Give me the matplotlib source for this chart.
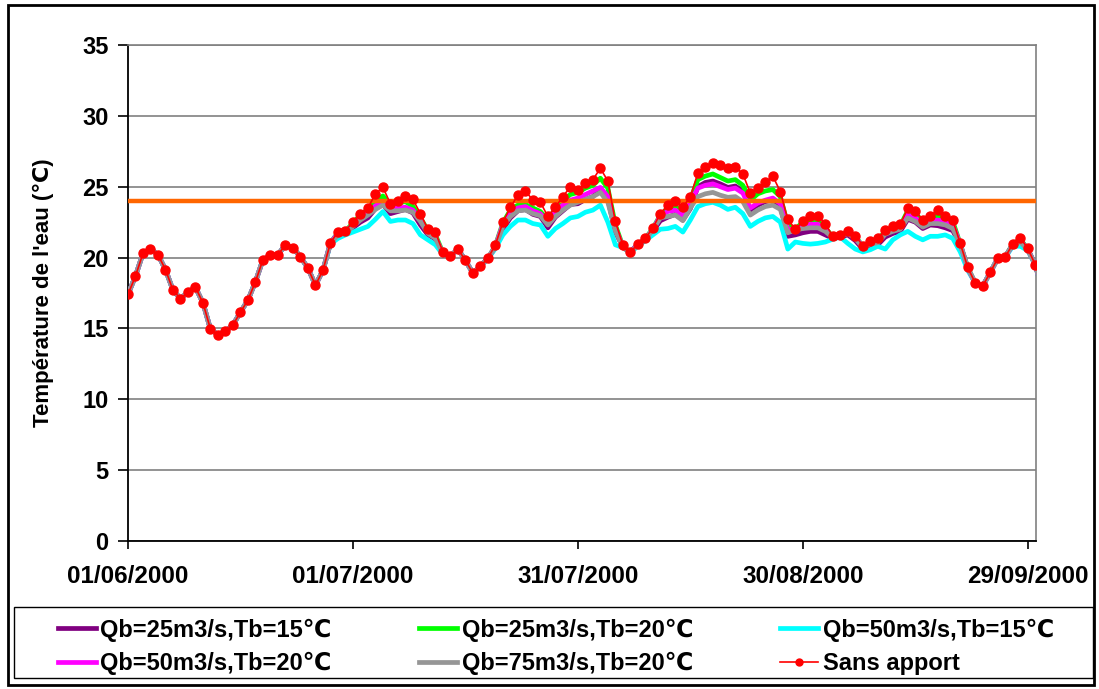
import numpy as np
import matplotlib
matplotlib.use("Agg")
import matplotlib.pyplot as plt
from matplotlib.patches import Rectangle
from matplotlib.lines import Line2D

# daily water temperature, 01/06/2000 -> 01/10/2000 (one value per day)
sans_apport = [
    17.4, 18.7, 20.3, 20.6, 20.2, 19.15, 17.7, 17.1, 17.55, 17.9,
    16.8, 14.95, 14.55, 14.8, 15.25, 16.15, 17.0, 18.3, 19.85, 20.15,
    20.2, 20.9, 20.7, 20.05, 19.25, 18.05, 19.1, 21.05, 21.8, 21.9,
    22.5, 23.1, 23.5, 24.5, 24.95, 23.8, 24.0, 24.35, 24.1, 23.1,
    22.0, 21.8, 20.4, 20.1, 20.6, 19.8, 18.9, 19.4, 19.95, 20.9,
    22.5, 23.55, 24.4, 24.7, 24.05, 23.9, 22.9, 23.55, 24.3, 25.0,
    24.8, 25.25, 25.5, 26.3, 25.4, 22.55, 20.9, 20.4, 20.95, 21.35,
    22.1, 23.1, 23.7, 24.0, 23.55, 24.3, 25.95, 26.4, 26.7, 26.55,
    26.3, 26.4, 25.9, 24.55, 24.9, 25.3, 25.75, 24.65, 22.7, 22.0,
    22.55, 22.95, 22.95, 22.4, 21.5, 21.6, 21.9, 21.55, 20.85, 21.2,
    21.35, 21.95, 22.25, 22.35, 23.5, 23.3, 22.65, 22.95, 23.35, 22.9,
    22.65, 21.0, 19.3, 18.2, 18.0, 18.95, 19.95, 20.05, 20.95, 21.4,
    20.65, 19.5, 17.6]

qb25_tb15 = [
    17.4, 18.7, 20.3, 20.6, 20.2, 19.15, 17.7, 17.1, 17.55, 17.9,
    16.8, 14.95, 14.55, 14.8, 15.25, 16.15, 17.0, 18.3, 19.85, 20.15,
    20.2, 20.9, 20.7, 20.05, 19.25, 18.05, 19.1, 21.0, 21.55, 21.75,
    22.1, 22.5, 22.8, 23.45, 23.75, 23.1, 23.25, 23.4, 23.15, 22.3,
    21.6, 21.3, 20.3, 20.1, 20.6, 19.8, 18.9, 19.4, 19.95, 20.7,
    22.0, 22.8, 23.3, 23.4, 23.05, 22.9, 22.1, 22.85, 23.3, 23.75,
    23.8, 24.1, 24.3, 24.9, 24.1, 21.8, 20.75, 20.4, 20.9, 21.25,
    21.85, 22.6, 22.85, 23.05, 22.65, 23.45, 25.0, 25.3, 25.4, 25.2,
    24.95, 25.05, 24.7, 23.35, 23.7, 23.95, 24.05, 23.6, 21.5, 21.6,
    21.75, 21.85, 21.85, 21.6, 21.35, 21.45, 21.6, 21.2, 20.6, 20.8,
    20.9, 21.45, 21.7, 21.85, 22.7, 22.5, 22.05, 22.3, 22.25, 22.1,
    21.9, 20.9, 19.2, 18.2, 18.0, 18.95, 19.95, 20.05, 20.95, 21.0,
    20.55, 19.5, 17.6]

qb25_tb20 = [
    17.4, 18.7, 20.3, 20.6, 20.2, 19.15, 17.7, 17.1, 17.55, 17.9,
    16.8, 14.95, 14.55, 14.8, 15.25, 16.15, 17.0, 18.3, 19.85, 20.15,
    20.2, 20.9, 20.7, 20.05, 19.25, 18.05, 19.1, 21.05, 21.75, 21.85,
    22.45, 23.0, 23.4, 23.95, 24.35, 23.7, 23.85, 23.95, 23.6, 22.8,
    21.9, 21.6, 20.35, 20.1, 20.6, 19.8, 18.9, 19.4, 19.95, 20.85,
    22.45, 23.35, 23.7, 23.75, 23.5, 23.25, 22.65, 23.45, 24.05, 24.45,
    24.6, 24.9, 25.1, 25.6, 24.9, 22.3, 20.8, 20.4, 20.95, 21.35,
    22.05, 23.0, 23.5, 23.6, 23.25, 24.1, 25.5, 25.75, 25.9, 25.65,
    25.4, 25.5, 25.1, 24.05, 24.5, 24.7, 24.8, 24.3, 22.3, 22.0,
    22.5, 22.55, 22.55, 22.1, 21.45, 21.55, 21.8, 21.5, 20.8, 21.1,
    21.25, 21.85, 22.1, 22.25, 23.3, 23.1, 22.55, 22.8, 22.95, 22.8,
    22.55, 20.95, 19.3, 18.2, 18.0, 18.95, 19.95, 20.05, 20.95, 21.3,
    20.6, 19.5, 17.6]

qb50_tb15 = [
    17.4, 18.7, 20.3, 20.6, 20.2, 19.15, 17.7, 17.1, 17.55, 17.9,
    16.8, 14.95, 14.55, 14.8, 15.25, 16.15, 17.0, 18.3, 19.85, 20.15,
    20.2, 20.9, 20.7, 20.05, 19.25, 18.05, 19.1, 20.95, 21.35, 21.6,
    21.8, 22.0, 22.2, 22.7, 23.25, 22.55, 22.65, 22.65, 22.4, 21.6,
    21.25, 20.9, 20.2, 20.05, 20.6, 19.8, 18.9, 19.4, 19.9, 20.65,
    21.6, 22.2, 22.65, 22.65, 22.4, 22.3, 21.5, 22.05, 22.4, 22.8,
    22.9, 23.2, 23.35, 23.7, 22.5, 20.9, 20.7, 20.35, 20.8, 21.2,
    21.6, 22.0, 22.05, 22.2, 21.8, 22.65, 23.6, 23.8, 23.9, 23.7,
    23.4, 23.55, 23.1, 22.2, 22.55, 22.8, 22.9, 22.5, 20.6, 21.1,
    21.0, 20.95, 21.0, 21.1, 21.3, 21.45, 21.0, 20.6, 20.4, 20.55,
    20.8, 20.6, 21.25, 21.6, 21.85, 21.5, 21.25, 21.5, 21.5, 21.6,
    21.35, 20.4, 19.1, 18.2, 18.0, 18.95, 19.95, 20.0, 20.8, 20.8,
    20.5, 19.5, 17.6]

qb50_tb20 = [
    17.4, 18.7, 20.3, 20.6, 20.2, 19.15, 17.7, 17.1, 17.55, 17.9,
    16.8, 14.95, 14.55, 14.8, 15.25, 16.15, 17.0, 18.3, 19.85, 20.15,
    20.2, 20.9, 20.7, 20.05, 19.25, 18.05, 19.1, 21.05, 21.7, 21.8,
    22.35, 22.9, 23.2, 23.65, 23.95, 23.5, 23.5, 23.55, 23.35, 22.65,
    21.8, 21.45, 20.3, 20.1, 20.6, 19.8, 18.9, 19.4, 19.95, 20.8,
    22.35, 23.1, 23.5, 23.6, 23.3, 23.1, 22.4, 23.25, 23.7, 24.05,
    24.2, 24.45, 24.7, 24.95, 24.3, 22.1, 20.75, 20.4, 20.95, 21.3,
    22.0, 22.95, 23.25, 23.35, 22.95, 23.9, 24.9, 25.1, 25.2, 25.0,
    24.8, 24.9, 24.55, 23.5, 23.85, 24.05, 24.2, 23.8, 22.0, 21.95,
    22.3, 22.35, 22.35, 22.0, 21.4, 21.5, 21.75, 21.45, 20.75, 21.05,
    21.15, 21.75, 22.0, 22.1, 23.0, 22.8, 22.35, 22.6, 22.65, 22.55,
    22.3, 20.95, 19.25, 18.2, 18.0, 18.95, 19.95, 20.05, 20.9, 21.2,
    20.6, 19.5, 17.6]

qb75_tb20 = [
    17.4, 18.7, 20.3, 20.6, 20.2, 19.15, 17.7, 17.1, 17.55, 17.9,
    16.8, 14.95, 14.55, 14.8, 15.25, 16.15, 17.0, 18.3, 19.85, 20.15,
    20.2, 20.9, 20.7, 20.05, 19.25, 18.05, 19.1, 21.0, 21.6, 21.7,
    22.2, 22.65, 23.0, 23.4, 23.7, 23.3, 23.3, 23.35, 23.2, 22.55,
    21.7, 21.35, 20.3, 20.1, 20.6, 19.8, 18.9, 19.4, 19.95, 20.75,
    22.2, 22.9, 23.3, 23.35, 23.1, 22.95, 22.3, 22.9, 23.35, 23.7,
    23.9, 24.1, 24.3, 24.6, 23.9, 21.9, 20.7, 20.35, 20.9, 21.3,
    21.95, 22.8, 22.9, 23.0, 22.6, 23.5, 24.3, 24.5, 24.6, 24.4,
    24.25, 24.3, 23.95, 23.0, 23.35, 23.6, 23.7, 23.4, 21.75, 21.95,
    22.05, 22.1, 22.1, 21.85, 21.4, 21.5, 21.7, 21.35, 20.7, 20.95,
    21.05, 21.65, 21.85, 22.0, 22.8, 22.55, 22.15, 22.4, 22.4, 22.3,
    22.05, 20.9, 19.25, 18.2, 18.0, 18.95, 19.95, 20.05, 20.9, 21.1,
    20.55, 19.5, 17.6]

seuil = 24.0
tick_days = [0, 30, 60, 90, 120]
tick_labels = ['01/06/2000', '01/07/2000', '31/07/2000', '30/08/2000', '29/09/2000']

plt.rcParams['font.family'] = ['Liberation Sans', 'DejaVu Sans']
plt.rcParams['font.weight'] = 'bold'

days = np.arange(len(sans_apport))

fig = plt.figure(figsize=(10.99, 6.89), dpi=100)
ax = fig.add_axes([128 / 1099, 1 - 541 / 689, 908 / 1099, 496 / 689])

lw = 3.4
ax.plot(days, qb25_tb15, color='#800080', lw=lw, zorder=2)
ax.plot(days, qb25_tb20, color='#00FF00', lw=lw, zorder=3)
ax.plot(days, qb50_tb15, color='#00FFFF', lw=lw, zorder=4)
ax.plot(days, qb50_tb20, color='#FF00FF', lw=lw, zorder=5)
ax.plot(days, qb75_tb20, color='#969696', lw=lw, zorder=6)
ax.axhline(seuil, color='#FF6600', lw=3.2, zorder=7)
ax.plot(days, sans_apport, color='#FF0000', lw=1.2, marker='o', ms=6.5,
        mec='#FF0000', mfc='#FF0000', zorder=8)

ax.set_xlim(0, 121.1)
ax.set_ylim(0, 35)
ax.set_yticks(range(0, 36, 5))
ax.set_xticks(tick_days)
ax.set_xticklabels(tick_labels)
ax.yaxis.grid(True, color='#808080', lw=1.2)
ax.set_axisbelow(True)

for side in ['left', 'bottom']:
    ax.spines[side].set_color('black')
    ax.spines[side].set_linewidth(1.3)
for side in ['top', 'right']:
    ax.spines[side].set_color('#808080')
    ax.spines[side].set_linewidth(1.2)

ax.tick_params(axis='y', direction='out', length=7, width=1.2, pad=7, labelsize=17)
ax.tick_params(axis='x', direction='out', length=6, width=1.2, pad=11, labelsize=17.5)

ax.set_ylabel("Température de l'eau (℃)", fontsize=16, fontweight='bold')
ax.yaxis.set_label_coords(-0.081, 0.5)

# legend box drawn separately, entries centred inside it
fig.patches.append(Rectangle((14 / 1099, 1 - 678 / 689), 1079 / 1099, 71 / 689,
                             transform=fig.transFigure, fill=False,
                             ec='black', lw=1.0))
handles = [
    Line2D([], [], color='#800080', lw=lw),
    Line2D([], [], color='#FF00FF', lw=lw),
    Line2D([], [], color='#00FF00', lw=lw),
    Line2D([], [], color='#969696', lw=lw),
    Line2D([], [], color='#00FFFF', lw=lw),
    Line2D([], [], color='#FF0000', lw=1.2, marker='o', ms=5),
]
labels = ['Qb=25m3/s,Tb=15℃', 'Qb=50m3/s,Tb=20℃',
          'Qb=25m3/s,Tb=20℃', 'Qb=75m3/s,Tb=20℃',
          'Qb=50m3/s,Tb=15℃', 'Sans apport']
fig.legend(handles, labels, ncol=3, loc='center',
           bbox_to_anchor=(556 / 1099, 1 - 647 / 689),
           frameon=False, fontsize=17, handlelength=1.6,
           handletextpad=0.2, borderpad=0, labelspacing=0.45,
           columnspacing=3.7)

fig.patches.append(Rectangle((8 / 1099, 4 / 689), 1086 / 1099, 680 / 689,
                             transform=fig.transFigure, fill=False,
                             ec='black', lw=2))

fig.savefig('out.png', dpi=100)
